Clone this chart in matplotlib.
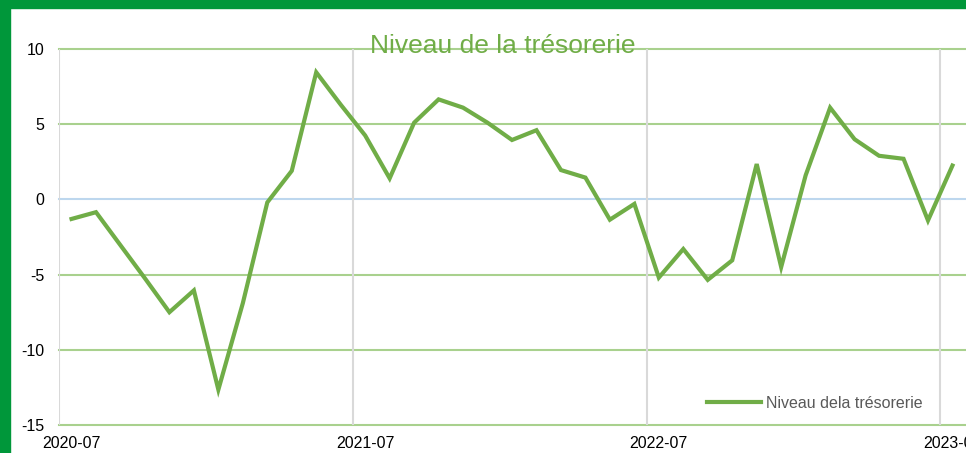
import matplotlib.pyplot as plt
from matplotlib.patches import Rectangle

plt.rcParams['font.family'] = ['Liberation Sans', 'DejaVu Sans']

# monthly values, 2020-07 .. 2023-07
months = ['2020-07', '2020-08', '2020-09', '2020-10', '2020-11', '2020-12',
          '2021-01', '2021-02', '2021-03', '2021-04', '2021-05', '2021-06',
          '2021-07', '2021-08', '2021-09', '2021-10', '2021-11', '2021-12',
          '2022-01', '2022-02', '2022-03', '2022-04', '2022-05', '2022-06',
          '2022-07', '2022-08', '2022-09', '2022-10', '2022-11', '2022-12',
          '2023-01', '2023-02', '2023-03', '2023-04', '2023-05', '2023-06',
          '2023-07']
tresorerie = [-1.3, -0.85, -3.05, -5.25, -7.5, -6.05, -12.65, -6.9, -0.2, 1.9,
              8.45, 6.3, 4.25, 1.4, 5.1, 6.65, 6.1, 5.1, 3.95, 4.6,
              1.95, 1.45, -1.35, -0.3, -5.2, -3.3, -5.35, -4.05, 2.35, -4.5,
              1.6, 6.1, 4.0, 2.9, 2.7, -1.4, 2.25]
tick_labels = ['2020-07', '2021-07', '2022-07', '2023-07']
yticks = [-15, -10, -5, 0, 5, 10]

green = '#70AD47'
W, H = 966, 453
fig = plt.figure(figsize=(W / 100, H / 100), dpi=100)

# green frame on left and top
fig.add_artist(Rectangle((0, 0), 10 / W, 1, transform=fig.transFigure,
                         color='#00973A', zorder=0))
fig.add_artist(Rectangle((0, 1 - 8 / H), 1, 8 / H, transform=fig.transFigure,
                         color='#00973A', zorder=0))

ax = fig.add_axes([59.3 / W, 28 / H, 905.4 / W, 376 / H])
x = list(range(len(months)))
ax.plot(x, tresorerie, color=green, lw=3, solid_joinstyle='miter',
        label='Niveau dela trésorerie', zorder=3)

ax.set_xlim(-0.5, len(months) - 0.5)
ax.set_ylim(-15, 10)

# horizontal gridlines
for v in yticks:
    c = '#BDD7EE' if v == 0 else '#A9D18E'
    ax.axhline(v, color=c, lw=1.5, zorder=1, clip_on=False)
# vertical gridlines at year boundaries
for i in range(len(months)):
    if months[i].endswith('-07'):
        ax.axvline(i - 0.5, color='#D9D9D9', lw=1.5, zorder=1)

for s in ax.spines.values():
    s.set_visible(False)

ax.set_yticks(yticks)
ax.set_yticklabels([str(v) for v in yticks])
ax.set_xticks([months.index(t) for t in tick_labels])
ax.set_xticklabels(tick_labels)
ax.tick_params(length=0, labelsize=11.5, colors='black')
ax.tick_params(axis='y', pad=11)
ax.tick_params(axis='x', pad=8)

fig.text(503 / W, 1 - 53 / H, 'Niveau de la trésorerie', color=green,
         fontsize=19, ha='center', va='baseline')

leg = ax.legend(loc='center left', bbox_to_anchor=(707 / W, 1 - 403 / H),
                bbox_transform=fig.transFigure, frameon=False, borderpad=0,
                borderaxespad=0, handlelength=3.4, handletextpad=0.3,
                fontsize=11.5)
for t in leg.get_texts():
    t.set_color('#595959')

fig.savefig('out.png', dpi=100)
